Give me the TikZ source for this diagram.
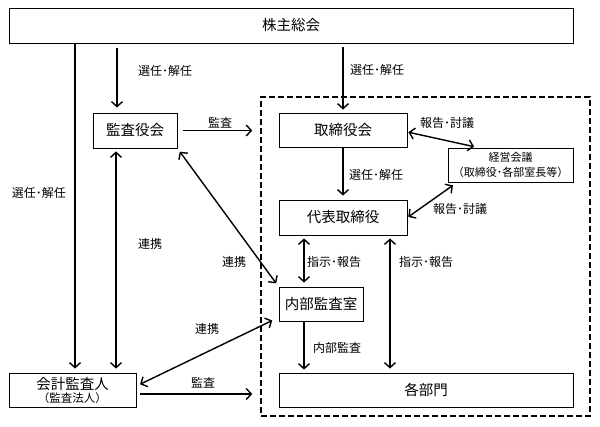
\documentclass[tikz,border=0pt]{standalone}
\usepackage{fontspec}
\setmainfont{Noto Sans CJK JP}
\usetikzlibrary{arrows.meta}
\tikzset{
  box/.style={draw, line width=0.9pt, inner sep=0pt, font=\fontsize{14.5}{16}\selectfont},
  lbl/.style={inner sep=0pt, font=\fontsize{12}{13}\selectfont},
  arr/.style={line width=1.4pt, -{Straight Barb[length=5pt,width=11pt]}},
  darr/.style={line width=1.4pt, {Straight Barb[length=5pt,width=11pt]}-{Straight Barb[length=5pt,width=11pt]}},
  frame/.style={draw, line width=1.6pt, dash pattern=on 6pt off 3pt, inner sep=0pt}
}
\begin{document}
\begin{tikzpicture}[x=1pt,y=-1pt]
\useasboundingbox (0,0) rectangle (600,426);
\fill[white] (0,0) rectangle (600,426);
% dashed frame
\node[frame, minimum width=329pt, minimum height=319pt] (fr) at (425.5,256.5) {};
% boxes
\node[box, minimum width=564pt, minimum height=35pt] (sh) at (291,25.5) {株主総会};
\node[box, minimum width=84pt, minimum height=35pt] (kr) at (135,130.5) {監査役会};
\node[box, minimum width=128pt, minimum height=34pt] (tr) at (343,130) {取締役会};
\node[box, minimum width=125pt, minimum height=34pt, align=center, font=\fontsize{11}{15}\selectfont] (ke) at (510.5,165) {経営会議\\（取締役･各部室長等）};
\node[box, minimum width=128pt, minimum height=35pt] (dh) at (343,217.5) {代表取締役};
\node[box, minimum width=84pt, minimum height=34pt] (nb) at (321,304) {内部監査室};
\node[box, minimum width=294pt, minimum height=34pt] (kb) at (426,390) {各部門};
\node[box, minimum width=127pt, minimum height=34pt, align=center, font=\fontsize{14.5}{14}\selectfont] (ka) at (72.5,390) {会計監査人\\[-1pt]{\fontsize{11.5}{12}\selectfont （監査法人）}};
% helper coordinates
\coordinate (ka1) at ([xshift=2.5pt]ka.north);
\coordinate (kr1) at ([xshift=-18pt]kr.north);
\coordinate (kr2) at ([xshift=-19pt]kr.south);
\coordinate (dh1) at ([xshift=-39pt]dh.south);
\coordinate (dh2) at ([xshift=47pt]dh.south);
\coordinate (nb1) at ([xshift=-17pt]nb.south);
\coordinate (ke1) at ([xshift=-32.5pt]ke.north);
\coordinate (ke2) at ([xshift=-53.5pt]ke.south);
\coordinate (tr1) at ([yshift=-2pt]tr.east);
\coordinate (ka3) at ([yshift=4pt]ka.east);
\coordinate (ka4) at ([yshift=-4pt]ka.east);
\coordinate (nb2) at ([yshift=4pt]nb.south west);
% connectors
\draw[arr, shorten >=4pt] (sh.south -| ka1) -- (ka1);
\node[lbl] (l1) at (39,193) {選任･解任};
\draw[arr, shorten <=5pt, shorten >=5pt] (sh.south -| kr1) -- (kr1);
\node[lbl] (l2) at (165,71) {選任･解任};
\draw[arr, shorten <=6pt, shorten >=8pt] (kr.east) -- (fr.west |- kr.east);
\node[lbl] (l3) at (220,123) {監査};
\draw[arr, shorten <=4pt, shorten >=3pt] (sh.south -| tr.north) -- (tr.north);
\node[lbl] (l4) at (377,70) {選任･解任};
\draw[arr, shorten >=4pt] (tr.south) -- (dh.north);
\node[lbl] (l5) at (376,175) {選任･解任};
\draw[darr, shorten <=1pt, shorten >=4pt] (tr1) -- (ke1);
\node[lbl] (l6) at (447,123) {報告･討議};
\draw[darr, shorten <=5pt, shorten >=1pt] (ke2) -- (dh.east);
\node[lbl] (l7) at (460,209) {報告･討議};
\draw[darr, shorten <=3pt, shorten >=4pt] (dh1) -- (nb.north -| dh1);
\node[lbl] (l8) at (334,262) {指示･報告};
\draw[darr, shorten <=3pt, shorten >=4pt] (dh2) -- (kb.north -| dh2);
\node[lbl] (l9) at (426,262) {指示･報告};
\draw[arr, shorten >=3pt] (nb1) -- (kb.north -| nb1);
\node[lbl] (l10) at (337,348) {内部監査};
\draw[darr, shorten <=4pt, shorten >=4pt] (kr.south east) -- (nb.north west);
\node[lbl] (l11) at (234,262) {連携};
\draw[darr, shorten <=4pt, shorten >=7pt] (ka3) -- (nb2);
\node[lbl] (l12) at (207,329) {連携};
\draw[arr, shorten <=4pt, shorten >=8pt] (ka4) -- (fr.west |- ka4);
\node[lbl] (l13) at (203,383) {監査};
\draw[darr, shorten <=3pt, shorten >=4pt] (kr2) -- (ka.north -| kr2);
\node[lbl] (l14) at (150,244) {連携};
\end{tikzpicture}
\end{document}
